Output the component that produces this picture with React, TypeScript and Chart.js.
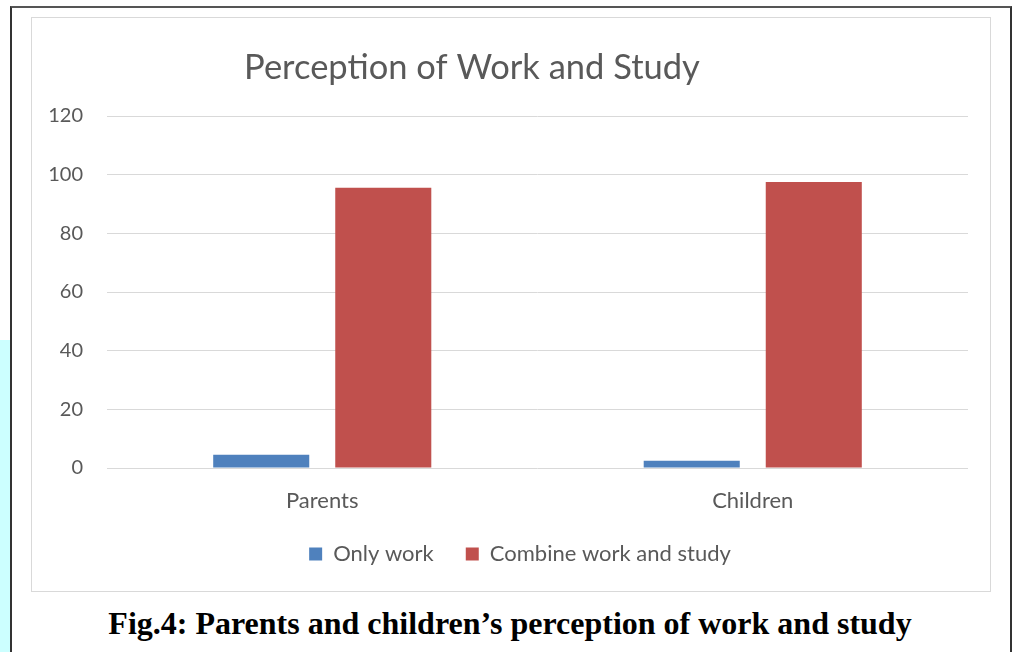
import React, { useEffect, useRef } from "react";
import { Chart, registerables } from "chart.js";

Chart.register(...registerables);

const categories = ["Parents", "Children"];
const onlyWork = [4.5, 2.5];
const combineWorkStudy = [95.5, 97.5];
const seriesNames = ["Only work", "Combine work and study"];
const chartTitle = "Perception of Work and Study";
const caption = "Fig.4: Parents and children\u2019s perception of work and study";

const FONT = "Lato, 'Open Sans', sans-serif";
const TEXT = "#595959";

const titlePlugin = {
  id: "customTitle",
  afterLayout(chart: any) {
    if (chart.legend) {
      chart.legend.left += 20;
      chart.legend.right += 20;
    }
  },
  afterDraw(chart: any) {
    const ctx = chart.ctx;
    ctx.save();
    ctx.font = `34.5px ${FONT}`;
    ctx.fillStyle = TEXT;
    ctx.textAlign = "center";
    ctx.textBaseline = "middle";
    ctx.fillText(chartTitle, 440, 50);
    ctx.restore();
  },
};

export default function App() {
  const ref = useRef<HTMLCanvasElement | null>(null);
  useEffect(() => {
    if (!ref.current) return;
    const chart = new Chart(ref.current, {
      type: "bar",
      data: {
        labels: categories,
        datasets: [
          {
            label: seriesNames[0],
            data: onlyWork,
            backgroundColor: "#4F81BD",
            categoryPercentage: 0.567,
            barPercentage: 0.787,
          },
          {
            label: seriesNames[1],
            data: combineWorkStudy,
            backgroundColor: "#C0504D",
            categoryPercentage: 0.567,
            barPercentage: 0.787,
          },
        ],
      },
      options: {
        animation: false,
        responsive: false,
        maintainAspectRatio: false,
        layout: { padding: { top: 98, right: 22, bottom: 16, left: 0 } },
        plugins: {
          title: { display: false },
          tooltip: { enabled: false },
          legend: {
            position: "bottom",
            labels: {
              boxWidth: 13,
              boxHeight: 13,
              padding: 32,
              color: TEXT,
              font: { family: FONT, size: 22 },
            },
          },
        },
        scales: {
          x: {
            grid: { display: false, drawTicks: false },
            border: { display: false },
            ticks: {
              color: TEXT,
              font: { family: FONT, size: 22 },
              padding: 20,
            },
            afterFit(scale: any) {
              scale.height = 43;
            },
          },
          y: {
            min: 0,
            max: 120,
            ticks: {
              stepSize: 20,
              color: TEXT,
              font: { family: FONT, size: 20 },
              padding: 24,
            },
            grid: { color: "#d9d9d9", lineWidth: 1, drawTicks: false },
            border: { display: false },
            afterFit(scale: any) {
              scale.width = 75;
            },
          },
        },
      },
      plugins: [titlePlugin],
    });
    return () => chart.destroy();
  }, []);

  return (
    <div
      style={{
        position: "fixed",
        left: 0,
        top: 0,
        width: 1013,
        height: 652,
        background: "#ffffff",
        overflow: "hidden",
      }}
    >
      <div
        style={{
          position: "absolute",
          left: 0,
          top: 340,
          width: 10,
          height: 312,
          background: "#ccffff",
        }}
      />
      <div
        style={{
          position: "absolute",
          left: 10,
          top: 6,
          width: 998,
          height: 660,
          borderLeft: "2px solid #333",
          borderTop: "2px solid #555",
          borderRight: "2px solid #333",
        }}
      />
      <div
        style={{
          position: "absolute",
          left: 31,
          top: 17,
          width: 958,
          height: 573,
          border: "1px solid #d9d9d9",
        }}
      >
        <canvas ref={ref} width={958} height={573} style={{ display: "block" }} />
      </div>
      <div
        style={{
          position: "absolute",
          left: 12,
          width: 996,
          top: 603,
          textAlign: "center",
          fontFamily: "'Liberation Serif', 'Times New Roman', serif",
          fontWeight: "bold",
          fontSize: 32,
          lineHeight: "40px",
          color: "#000",
          whiteSpace: "nowrap",
        }}
      >
        {caption}
      </div>
    </div>
  );
}
